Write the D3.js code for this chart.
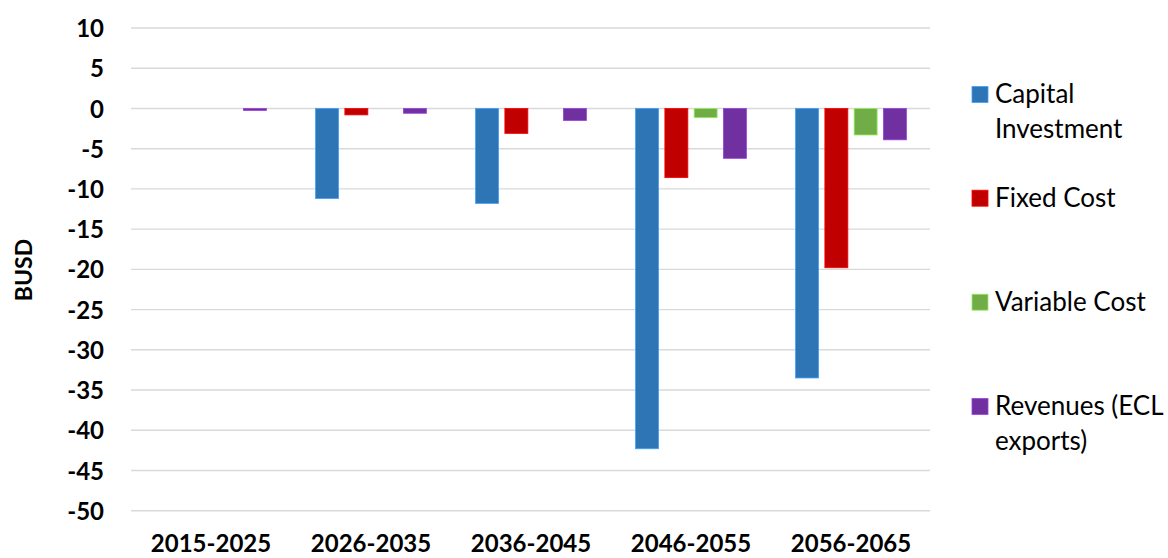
<!DOCTYPE html>
<html>
<head>
<meta charset="utf-8">
<script src="https://cdn.jsdelivr.net/npm/d3@7/dist/d3.min.js"></script>
<style>
  html, body { margin: 0; padding: 0; background: #ffffff; }
  svg { display: block; font-family: Lato, "Open Sans", sans-serif; }
</style>
</head>
<body>
<svg id="chart" width="1168" height="558"></svg>
<script>
// Decade periods on the x axis
const categories = ["2015-2025", "2026-2035", "2036-2045", "2046-2055", "2056-2065"];

// Series values in billions of USD
const capitalInvestment = [0, -11.2, -11.8, -42.3, -33.5];
const fixedCost         = [0, -0.8, -3.1, -8.6, -19.8];
const variableCost      = [0, 0, 0, -1.15, -3.3];
const revenues          = [-0.25, -0.6, -1.5, -6.2, -3.9];

const seriesNames = ["Capital Investment", "Fixed Cost", "Variable Cost", "Revenues (ECL exports)"];
const seriesLegendLines = [["Capital", "Investment"], ["Fixed Cost"], ["Variable Cost"], ["Revenues (ECL", "exports)"]];
const seriesValues = [capitalInvestment, fixedCost, variableCost, revenues];
const seriesColors = ["#2E75B6", "#C00000", "#70AD47", "#7030A0"];

const yTicks = [10, 5, 0, -5, -10, -15, -20, -25, -30, -35, -40, -45, -50];

const svg = d3.select("#chart");

const plot = { left: 131, right: 931, top: 28, bottom: 510.7 };

const x = d3.scaleBand().domain(categories).range([plot.left, plot.right]).paddingInner(0).paddingOuter(0);
const xSub = d3.scaleBand().domain(seriesNames).range([0, x.bandwidth()]).paddingInner(0.215).paddingOuter(0.84);
const y = d3.scaleLinear().domain([-50, 10]).range([plot.bottom, plot.top]);

// Horizontal gridlines
svg.append("g")
  .selectAll("line")
  .data(yTicks)
  .join("line")
  .attr("x1", plot.left)
  .attr("x2", plot.right - 1)
  .attr("y1", d => y(d))
  .attr("y2", d => y(d))
  .attr("stroke", "#d9d9d9")
  .attr("stroke-width", 1.4);

// Y axis tick labels (plain hyphen for negatives)
const yAxis = d3.axisLeft(y).tickValues(yTicks).tickFormat(d => String(d)).tickSize(0).tickPadding(0);
const yAxisG = svg.append("g")
  .attr("transform", `translate(${plot.left - 27},0)`)
  .call(yAxis);
yAxisG.select(".domain").remove();
yAxisG.selectAll("text")
  .attr("font-family", "Lato, sans-serif")
  .attr("font-size", 24)
  .attr("font-weight", "bold")
  .attr("fill", "#000")
  .attr("dy", "0.36em");

// X axis category labels
const xAxis = d3.axisBottom(x).tickSize(0).tickPadding(0);
const xAxisG = svg.append("g")
  .attr("transform", `translate(0,${plot.bottom})`)
  .call(xAxis);
xAxisG.select(".domain").remove();
xAxisG.selectAll("text")
  .attr("font-family", "Lato, sans-serif")
  .attr("font-size", 24)
  .attr("font-weight", "bold")
  .attr("fill", "#000")
  .attr("dy", null)
  .attr("y", 41);

// Y axis title
svg.append("text")
  .attr("transform", "translate(32,270) rotate(-90)")
  .attr("text-anchor", "middle")
  .attr("font-size", 23)
  .attr("font-weight", "bold")
  .attr("fill", "#000")
  .text("BUSD");

// Bars
const bars = svg.append("g");
seriesNames.forEach((name, si) => {
  const color = seriesColors[si];
  bars.append("g")
    .selectAll("rect")
    .data(seriesValues[si].map((v, i) => ({ cat: categories[i], v })))
    .join("rect")
    .filter(d => d.v !== 0)
    .attr("x", d => x(d.cat) + xSub(name))
    .attr("width", xSub.bandwidth())
    .attr("y", d => Math.min(y(0), y(d.v)))
    .attr("height", d => Math.abs(y(d.v) - y(0)))
    .attr("fill", color)
    .attr("stroke", d3.color(color).brighter(0.9))
    .attr("stroke-width", 0.8);
});

// Legend
const legendBaselines = [103, 206.7, 310.7, 415];
const legend = svg.append("g");
seriesNames.forEach((name, si) => {
  const g = legend.append("g");
  const b = legendBaselines[si];
  g.append("rect")
    .attr("x", 972)
    .attr("y", b - 16.5)
    .attr("width", 16)
    .attr("height", 16)
    .attr("fill", seriesColors[si])
    .attr("stroke", d3.color(seriesColors[si]).brighter(0.9))
    .attr("stroke-width", 0.8);
  const t = g.append("text")
    .attr("x", 995)
    .attr("y", b)
    .attr("font-size", 26)
    .attr("fill", "#000");
  seriesLegendLines[si].forEach((line, li) => {
    t.append("tspan")
      .attr("x", 995)
      .attr("y", b + li * 35)
      .text(line);
  });
});
</script>
</body>
</html>
